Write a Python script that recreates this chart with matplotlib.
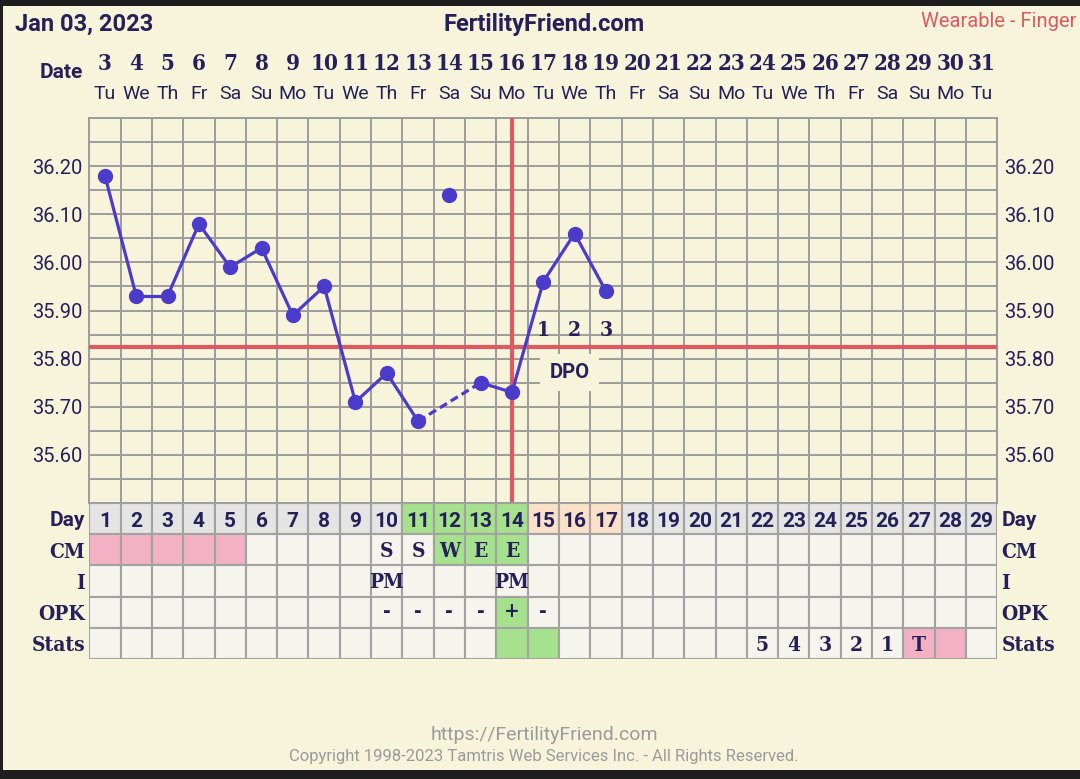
import matplotlib
matplotlib.use("Agg")
import matplotlib.pyplot as plt
import matplotlib.transforms as mtransforms
from matplotlib.patches import Rectangle
import numpy as np

# ---------------- data ----------------
chart_date = "Jan 03, 2023"
site_name = "FertilityFriend.com"
method_label = "Wearable - Finger"
footer_url = "https://FertilityFriend.com"
footer_copy = "Copyright 1998-2023 Tamtris Web Services Inc. - All Rights Reserved."

cycle_days = list(range(1, 30))
dates = list(range(3, 32))
weekdays = ["Tu", "We", "Th", "Fr", "Sa", "Su", "Mo"] * 4 + ["Tu"]

temp_days = list(range(1, 18))
temps = [36.18, 35.93, 35.93, 36.08, 35.99, 36.03, 35.89, 35.95, 35.71,
         35.77, 35.67, 36.14, 35.75, 35.73, 35.96, 36.06, 35.94]
discarded_days = [12]
coverline = 35.825
ovulation_day = 14
dpo_days = [15, 16, 17]
y_ticks = [35.60, 35.70, 35.80, 35.90, 36.00, 36.10, 36.20]

row_labels = ["Day", "CM", "I", "OPK", "Stats"]
period_days = [1, 2, 3, 4, 5]
fertile_days = [11, 12, 13, 14]
cm_days = [10, 11, 12, 13, 14]
cm_values = ["S", "S", "W", "E", "E"]
fertile_cm_days = [12, 13, 14]
intercourse_days = [10, 14]
intercourse_values = ["PM", "PM"]
opk_days = [10, 11, 12, 13, 14, 15]
opk_values = ["-", "-", "-", "-", "+", "-"]
positive_opk_days = [14]
stats_days = [22, 23, 24, 25, 26, 27]
stats_values = ["5", "4", "3", "2", "1", "T"]
stats_green_days = [14, 15]
expected_period_days = [27, 28]

# ---------------- style ----------------
BG = "#F8F4DC"
GRID = "#9C9C9C"
TGRID = "#A2A2A2"
NAVY = "#262059"
BLUE = "#4B3BCB"
RED = "#DD5A60"
CELL = "#F5F5EE"
DAYCELL = "#E4E4E4"
GREEN = "#A6E28D"
PINK = "#F3B1C5"
PEACH = "#FCE0C7"
FOOT = "#9A9A9A"
DARK = "#1E1E1E"
SANS = "Roboto"
SERIF = "DejaVu Serif"

plt.rcParams["font.family"] = [SANS, "DejaVu Sans"]

W, H = 1080, 779
fig = plt.figure(figsize=(W / 100, H / 100), dpi=100, facecolor=BG)


def rect(x0, y0, x1, y1):
    return [x0 / W, 1 - y1 / H, (x1 - x0) / W, (y1 - y0) / H]


def fy(y):
    return 1 - y / H


# ---------------- temperature axes ----------------
ax = fig.add_axes(rect(89.3, 118, 997.3, 503))
ax.set_facecolor(BG)
ax.set_xlim(0.5, 29.5)
ax.set_ylim(35.50, 36.30)
ax.set_xticks(cycle_days)
ax.set_xticks(np.arange(0.5, 30, 1), minor=True)
ax.set_yticks(y_ticks)
ax.set_yticklabels([f"{v:.2f}" for v in y_ticks])
ax.set_yticks(np.arange(35.50, 36.301, 0.05), minor=True)
ax.grid(which="minor", color=GRID, lw=1.4, zorder=1)
ax.grid(which="major", axis="y", color=GRID, lw=1.4, zorder=1)
ax.set_axisbelow(True)
ax.tick_params(which="both", length=0)
ax.tick_params(axis="x", labelbottom=False)
ax.tick_params(axis="y", labelleft=True, labelright=True, pad=5,
               labelsize=14.5, labelcolor=NAVY)
for s in ax.spines.values():
    s.set_color(GRID)
    s.set_linewidth(1.4)

# coverline + ovulation line
ax.axhline(coverline, color=RED, lw=3, zorder=3)
ax.axvline(ovulation_day, ymin=3 / 385, ymax=1, color=RED, lw=3, zorder=3)

# temperature line
valid = [(d, t) for d, t in zip(temp_days, temps) if d not in discarded_days]
for (d0, t0), (d1, t1) in zip(valid[:-1], valid[1:]):
    ls = "-" if d1 - d0 == 1 else (0, (2.6, 1.4))
    ax.plot([d0, d1], [t0, t1], color=BLUE, lw=2.3, ls=ls, zorder=4,
            solid_capstyle="round")
ax.plot(temp_days, temps, "o", color=BLUE, ms=10, zorder=5)

# DPO labels
for i, d in enumerate(dpo_days):
    ax.annotate(str(i + 1), xy=(d, coverline), xytext=(0, 11),
                textcoords="offset pixels", ha="center", va="baseline",
                fontfamily=SERIF, fontstretch="condensed", fontweight="heavy",
                fontsize=15, color=NAVY, zorder=6)
ax.annotate("DPO", xy=(dpo_days[1], coverline), xytext=(-5, -31),
            textcoords="offset pixels", ha="center", va="baseline",
            fontfamily=SANS, fontweight="bold", fontsize=14.5, color=NAVY,
            zorder=6,
            bbox=dict(boxstyle="square,pad=0.45", facecolor=BG, edgecolor="none"))

# header date row
trans = mtransforms.blended_transform_factory(ax.transData, fig.transFigure)
for d, dt, wd in zip(cycle_days, dates, weekdays):
    ax.text(d, fy(70), str(dt), transform=trans, ha="center", va="baseline",
            fontfamily=SERIF, fontstretch="condensed", fontweight="heavy",
            fontsize=16, color=NAVY)
    ax.text(d, fy(99), wd, transform=trans, ha="center", va="baseline",
            fontfamily=SANS, fontsize=14, color=NAVY)
fig.text(83 / W, fy(78), "Date", ha="right", va="baseline", fontfamily=SANS,
         fontweight="bold", fontsize=15, color=NAVY)

# titles
fig.text(15 / W, fy(31), chart_date, ha="left", va="baseline", fontfamily=SANS,
         fontweight="bold", fontsize=17, color=NAVY)
fig.text(544 / W, fy(31), site_name, ha="center", va="baseline", fontfamily=SANS,
         fontweight="bold", fontsize=17, color=NAVY)
fig.text(921 / W, fy(27), method_label, ha="left", va="baseline",
         fontfamily=SANS, fontsize=14.5, color=RED)

# ---------------- table axes ----------------
tax = fig.add_axes(rect(89.3, 503, 997.3, 659))
tax.set_facecolor("none")
tax.set_xlim(0.5, 29.5)
tax.set_ylim(5, 0)
for s in tax.spines.values():
    s.set_visible(False)
tax.set_xticks([])
tax.set_yticks([0.5, 1.5, 2.5, 3.5, 4.5])
tax.set_yticklabels(row_labels)
tax.tick_params(axis="y", length=0, pad=3, labelleft=True, labelright=True,
                labelcolor=NAVY)
for i, tick in enumerate(tax.yaxis.get_major_ticks()):
    for lab in (tick.label1, tick.label2):
        if i == 0:
            lab.set_fontfamily(SANS)
            lab.set_fontsize(15)
            lab.set_fontweight("bold")
        else:
            lab.set_fontfamily(SERIF)
            lab.set_fontstretch("condensed")
            lab.set_fontsize(15)
            lab.set_fontweight("heavy")

day_colors = [GREEN if d in fertile_days else PEACH if d in dpo_days else DAYCELL
              for d in cycle_days]
cm_colors = [PINK if d in period_days else GREEN if d in fertile_cm_days else CELL
             for d in cycle_days]
i_colors = [CELL for d in cycle_days]
opk_colors = [GREEN if d in positive_opk_days else CELL for d in cycle_days]
stats_colors = [GREEN if d in stats_green_days else
                PINK if d in expected_period_days else CELL for d in cycle_days]

for r, cols in enumerate([day_colors, cm_colors, i_colors, opk_colors, stats_colors]):
    tax.bar(cycle_days, 1, bottom=r, width=1, color=cols, edgecolor=TGRID,
            linewidth=1.5, zorder=1)

for d in cycle_days:
    tax.text(d, 0.77, str(d), ha="center", va="baseline", fontfamily=SANS,
             fontweight="bold", fontsize=15, color=NAVY, zorder=3)


def row_text(row, days, vals, base=0.74, size=15):
    for d, v in zip(days, vals):
        tax.text(d, row + base, v, ha="center", va="baseline", fontfamily=SERIF,
                 fontstretch="condensed", fontweight="heavy", fontsize=size,
                 color=NAVY, zorder=3)


row_text(1, cm_days, cm_values)
row_text(2, intercourse_days, intercourse_values)
row_text(3, opk_days, opk_values, base=0.66)
row_text(4, stats_days, stats_values)

# ---------------- footer ----------------
fig.text(544 / W, fy(740), footer_url, ha="center", va="baseline",
         fontfamily=SANS, fontsize=14, color=FOOT)
fig.text(544 / W, fy(761), footer_copy, ha="center", va="baseline",
         fontfamily=SANS, fontsize=12, color=FOOT)

# dark screenshot borders
fig.add_artist(Rectangle((0, fy(6)), 1, 6 / H, transform=fig.transFigure,
                         facecolor=DARK, edgecolor="none"))
fig.add_artist(Rectangle((0, 0), 1, 9 / H, transform=fig.transFigure,
                         facecolor=DARK, edgecolor="none"))
fig.add_artist(Rectangle((0, 0), 3 / W, 1, transform=fig.transFigure,
                         facecolor=DARK, edgecolor="none"))

fig.savefig("out.png", dpi=100, facecolor=BG)
